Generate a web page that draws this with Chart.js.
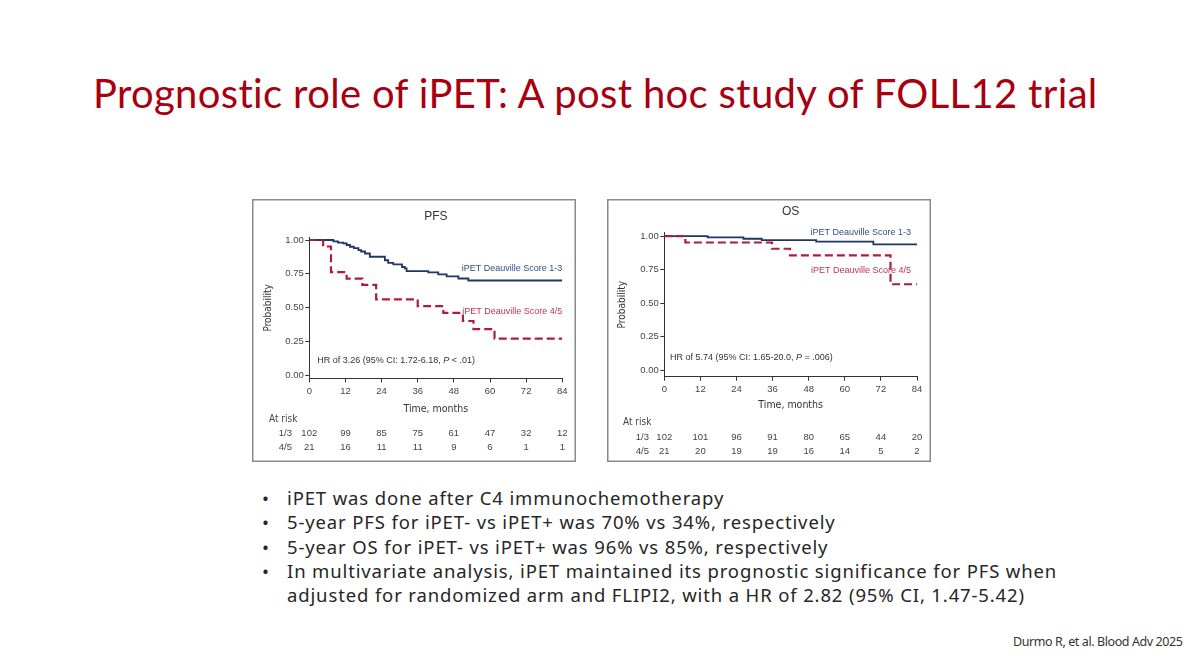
<!DOCTYPE html>
<html>
<head>
<meta charset="utf-8">
<script src="https://cdn.jsdelivr.net/npm/chart.js@4.4.0/dist/chart.umd.min.js"></script>
<style>
  html, body { margin: 0; padding: 0; background: #fff; }
  body { width: 1200px; height: 671px; position: relative; overflow: hidden; font-family: "Noto Sans", Lato, sans-serif; }
  #title { position: absolute; left: 93px; top: 73px; font-family: Lato, "Noto Sans", sans-serif; font-size: 40px; line-height: 1; color: #a8000f; white-space: nowrap; }
  .box { position: absolute; top: 199px; width: 324px; height: 263px; }
  #pfsBox { left: 252px; }
  #osBox { left: 607px; }
  #bullets { position: absolute; left: 287px; top: 486px; margin: 0; padding: 0; list-style: none; font-size: 18.5px; line-height: 24.3px; color: #262626; white-space: nowrap; }
  #bullets li { position: relative; }
  #bullets li.b::before { content: "\2022"; position: absolute; left: -25px; }
  #bullets span { display: inline-block; }
  #foot { position: absolute; left: 1013px; top: 634px; font-size: 12.5px; line-height: 16px; color: #333; white-space: nowrap; }
</style>
</head>
<body>
<span id="title">Prognostic role of iPET: A post hoc study of FOLL12 trial</span>

<div class="box" id="pfsBox"><canvas id="pfsChart"></canvas></div>
<div class="box" id="osBox"><canvas id="osChart"></canvas></div>

<ul id="bullets">
  <li class="b"><span>iPET was done after C4 immunochemotherapy</span></li>
  <li class="b"><span>5-year PFS for iPET- vs iPET+ was 70% vs 34%, respectively</span></li>
  <li class="b"><span>5-year OS for iPET- vs iPET+ was 96% vs 85%, respectively</span></li>
  <li class="b"><span>In multivariate analysis, iPET maintained its prognostic significance for PFS when</span></li>
  <li><span>adjusted for randomized arm and FLIPI2, with a HR of 2.82 (95% CI, 1.47-5.42)</span></li>
</ul>

<span id="foot">Durmo R, et al. Blood Adv 2025</span>

<script>
// ---- data ----
const xTicks = [0, 12, 24, 36, 48, 60, 72, 84];
const yTicks = [0, 0.25, 0.5, 0.75, 1];

// PFS, Deauville 1-3
const pfsLowTime = [0, 8, 9.5, 11.3, 12.4, 13.5, 14.8, 16.3, 17.2, 18.5, 20.1, 25.1, 26.2, 27.9, 30.8, 31.7, 32.3, 39.5, 42.8, 45.6, 49.5, 52.8, 84];
const pfsLowSurv = [1.00, 0.99, 0.98, 0.975, 0.963, 0.95, 0.94, 0.925, 0.915, 0.90, 0.876, 0.85, 0.83, 0.82, 0.80, 0.79, 0.77, 0.76, 0.745, 0.73, 0.715, 0.70, 0.70];
// PFS, Deauville 4/5
const pfsHighTime = [0, 4.6, 7.2, 12.4, 17.6, 22.2, 36, 44.5, 51, 54.5, 61.5, 84];
const pfsHighSurv = [1.00, 0.952, 0.762, 0.714, 0.667, 0.56, 0.51, 0.46, 0.40, 0.34, 0.27, 0.27];

// OS, Deauville 1-3
const osLowTime = [0, 14.4, 26.3, 32.4, 50.5, 69.5, 84];
const osLowSurv = [1.00, 0.99, 0.98, 0.97, 0.958, 0.938, 0.938];
// OS, Deauville 4/5
const osHighTime = [0, 7, 35.8, 41.8, 75.2, 84];
const osHighSurv = [1.00, 0.952, 0.905, 0.855, 0.64, 0.64];

// numbers at risk
const riskTimes = [0, 12, 24, 36, 48, 60, 72, 84];
const pfsRiskLow = [102, 99, 85, 75, 61, 47, 32, 12];
const pfsRiskHigh = [21, 16, 11, 11, 9, 6, 1, 1];
const osRiskLow = [102, 101, 96, 91, 80, 65, 44, 20];
const osRiskHigh = [21, 20, 19, 19, 16, 14, 5, 2];

const blue = "#1f3768";
const red = "#b01c3c";
const blueText = "#2d4f8a";
const redText = "#c23355";
const sans = '"Liberation Sans", Arial, sans-serif';
const narrow = '"Liberation Sans Narrow", "DejaVu Sans Condensed", "Liberation Sans", sans-serif';

function toPoints(times, surv) {
  return times.map((t, i) => ({ x: t, y: surv[i] }));
}

function drawExtras(chart, cfg) {
  const ctx = chart.ctx;
  const xs = chart.scales.x;
  const ys = chart.scales.y;
  const area = chart.chartArea;
  ctx.save();

  // frame round the panel
  ctx.strokeStyle = "#8a8a8a";
  ctx.lineWidth = 1.5;
  ctx.strokeRect(0.75, 0.75, chart.width - 1.5, chart.height - 1.5);

  // panel title
  ctx.fillStyle = "#333";
  ctx.font = "12px " + sans;
  ctx.textAlign = "center";
  ctx.textBaseline = "middle";
  ctx.fillText(cfg.title, (area.left + area.right) / 2, cfg.titleY);

  // curve labels
  ctx.font = "9px " + sans;
  ctx.textAlign = "right";
  ctx.fillStyle = blueText;
  ctx.fillText("iPET Deauville Score 1-3", xs.getPixelForValue(cfg.lowLabel[0]), ys.getPixelForValue(cfg.lowLabel[1]));
  ctx.fillStyle = redText;
  ctx.fillText("iPET Deauville Score 4/5", xs.getPixelForValue(cfg.highLabel[0]), ys.getPixelForValue(cfg.highLabel[1]));

  // hazard ratio, with italic P
  ctx.textAlign = "left";
  ctx.fillStyle = "#333";
  let hx = xs.getPixelForValue(cfg.hrPos[0]);
  const hy = ys.getPixelForValue(cfg.hrPos[1]);
  const parts = [[cfg.hr[0], ""], ["P", "italic "], [cfg.hr[1], ""]];
  parts.forEach(([txt, style]) => {
    ctx.font = style + "9px " + sans;
    ctx.fillText(txt, hx, hy);
    hx += ctx.measureText(txt).width;
  });

  // numbers at risk
  ctx.fillStyle = "#444";
  ctx.font = "10px " + narrow;
  ctx.fillText("At risk", cfg.riskLeft, cfg.riskRows[0]);
  ctx.font = "9.5px " + sans;
  ctx.textAlign = "right";
  ctx.fillText("1/3", cfg.groupRight, cfg.riskRows[1]);
  ctx.fillText("4/5", cfg.groupRight, cfg.riskRows[2]);
  ctx.textAlign = "center";
  riskTimes.forEach((t, i) => {
    const px = xs.getPixelForValue(t);
    ctx.fillText(String(cfg.riskLow[i]), px, cfg.riskRows[1]);
    ctx.fillText(String(cfg.riskHigh[i]), px, cfg.riskRows[2]);
  });
  ctx.restore();
}

function kmChart(id, cfg) {
  return new Chart(document.getElementById(id), {
    type: "line",
    data: {
      datasets: [
        {
          label: "iPET Deauville Score 4/5",
          data: toPoints(cfg.highT, cfg.highS),
          borderColor: red,
          borderWidth: 2.2,
          borderDash: [8, 4],
          stepped: true,
          pointRadius: 0,
          fill: false,
          order: 0,
        },
        {
          label: "iPET Deauville Score 1-3",
          data: toPoints(cfg.lowT, cfg.lowS),
          borderColor: blue,
          borderWidth: 1.8,
          stepped: true,
          pointRadius: 0,
          fill: false,
          order: 1,
        },
      ],
    },
    options: {
      responsive: true,
      maintainAspectRatio: false,
      animation: false,
      layout: { padding: cfg.padding },
      plugins: {
        legend: { display: false },
        tooltip: { enabled: false },
      },
      scales: {
        x: {
          type: "linear",
          min: 0,
          max: 84,
          afterBuildTicks: (s) => { s.ticks = xTicks.map((v) => ({ value: v })); },
          afterFit: (s) => { s.height = cfg.xHeight; s.paddingLeft = 0; s.paddingRight = 0; },
          title: { display: true, text: "Time, months", color: "#333", font: { family: narrow, size: 10.5, lineHeight: 1.2 }, padding: 0 },
          ticks: { color: "#444", font: { family: sans, size: 9.5 }, padding: 3, maxRotation: 0 },
          grid: { drawOnChartArea: false, drawTicks: true, tickLength: 4, color: "#333" },
          border: { display: true, color: "#333", width: 1 },
        },
        y: {
          type: "linear",
          min: cfg.yMin,
          max: cfg.yMax,
          afterBuildTicks: (s) => { s.ticks = yTicks.map((v) => ({ value: v })); },
          afterFit: (s) => { s.width = cfg.yWidth; s.paddingTop = 0; s.paddingBottom = 0; },
          title: { display: true, text: "Probability", color: "#333", font: { family: narrow, size: 10, lineHeight: 1.2 }, padding: 0 },
          ticks: { color: "#444", font: { family: sans, size: 9.5 }, padding: 1.5, callback: (v) => Number(v).toFixed(2) },
          grid: { drawOnChartArea: false, drawTicks: true, tickLength: 4, color: "#333" },
          border: { display: true, color: "#333", width: 1 },
        },
      },
    },
    plugins: [{ id: "kmExtras", afterDraw: (chart) => drawExtras(chart, cfg) }],
  });
}

// letter spacing that brings text to the width it has in the slide
function fitSpacing(els, target) {
  let w = 0, n = 0;
  els.forEach((el) => {
    el.style.letterSpacing = "0px";
    w += el.getBoundingClientRect().width;
    n += el.textContent.length - 1;
    el.style.letterSpacing = "";
  });
  return (target - w) / n;
}

function layoutText() {
  const title = document.getElementById("title");
  title.style.letterSpacing = fitSpacing([title], 1005) + "px";
  const list = document.getElementById("bullets");
  // widths of the five lines in the slide: 403, 533, 498, 809, 788
  list.style.letterSpacing = fitSpacing([...list.querySelectorAll("span")], 3031) + "px";
  const foot = document.getElementById("foot");
  foot.style.letterSpacing = fitSpacing([foot], 170) + "px";
}

document.fonts.ready.then(() => {
  layoutText();

  kmChart("pfsChart", {
    title: "PFS",
    titleY: 18,
    lowT: pfsLowTime, lowS: pfsLowSurv,
    highT: pfsHighTime, highS: pfsHighSurv,
    riskLow: pfsRiskLow, riskHigh: pfsRiskHigh,
    yMin: -0.025, yMax: 1.02,
    padding: { left: 10, right: 13.7, top: 38.3, bottom: 46 },
    yWidth: 47.3, xHeight: 37.6,
    lowLabel: [84, 0.79], highLabel: [84, 0.467],
    hrPos: [2.6, 0.104],
    hr: ["HR of 3.26 (95% CI: 1.72-6.18, ", " < .01)"],
    riskLeft: 17, groupRight: 40,
    riskRows: [220, 234, 248],
  });

  kmChart("osChart", {
    title: "OS",
    titleY: 13,
    lowT: osLowTime, lowS: osLowSurv,
    highT: osHighTime, highS: osHighSurv,
    riskLow: osRiskLow, riskHigh: osRiskHigh,
    yMin: -0.05, yMax: 1.025,
    padding: { left: 9, right: 14, top: 33.7, bottom: 50 },
    yWidth: 48.3, xHeight: 35.3,
    lowLabel: [82, 1.03], highLabel: [82, 0.746],
    hrPos: [1.9, 0.09],
    hr: ["HR of 5.74 (95% CI: 1.65-20.0, ", " = .006)"],
    riskLeft: 16, groupRight: 42,
    riskRows: [223, 238, 252],
  });
});
</script>
</body>
</html>
